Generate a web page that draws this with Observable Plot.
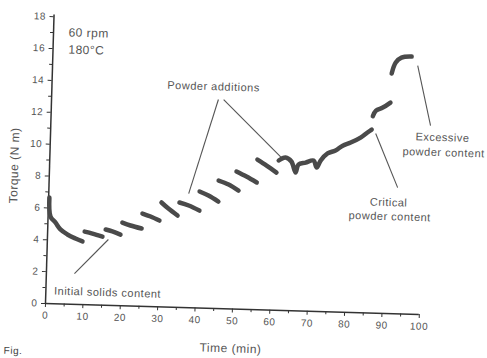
<!DOCTYPE html>
<html><head><meta charset="utf-8">
<script src="https://cdn.jsdelivr.net/npm/d3@7"></script>
<script src="https://cdn.jsdelivr.net/npm/@observablehq/plot@0.6"></script>
<style>
body{margin:0;background:#fff}
#chart svg text{letter-spacing:0.5px}
</style>
</head><body><div id="chart"></div>
<script>
// Torque trace, split into pieces (one per powder addition)
const segment = [1,1,1,1,1,1,1, 2,2,2, 3,3,3, 4,4,4, 5,5,5, 6,6,6, 7,7,7, 8,8,8, 9,9,9, 10,10,10, 11,11,11,
  12,12,12,12,12,12,12,12,12,12,12,12,12,12,12,12, 13,13,13,13, 14,14,14,14];
const time = [0.2,0.65,2.0,3.4,5.3,7.5,9.4, 9.9,12.0,14.7, 15.5,17.3,19.5, 19.9,22.1,25.1, 25.2,27.4,29.8,
  30.2,32.1,34.6, 35.0,37.5,40.4, 40.3,42.7,45.4, 45.3,48.0,50.7, 50.0,52.7,55.5, 55.5,58.0,60.7,
  61.2,63.0,64.6,65.8,66.5,68.4,70.5,71.4,72.4,74.2,76.3,78.2,80.3,82.9,84.7,85.8,
  86.0,86.8,88.6,90.6, 90.7,91.7,93.2,95.9];
const torque = [6.65,5.46,5.10,4.67,4.37,4.13,3.96, 4.58,4.47,4.30, 4.75,4.64,4.46, 5.22,5.05,4.88, 5.82,5.65,5.41,
  6.55,6.18,5.76, 6.58,6.41,6.11, 7.31,7.07,6.71, 8.03,7.80,7.44, 8.63,8.33,7.98, 9.42,9.06,8.64,
  9.40,9.60,9.36,8.68,9.18,9.32,9.46,9.03,9.47,9.93,10.13,10.45,10.66,10.99,11.32,11.51,
  12.35,12.71,12.91,13.24, 15.06,15.76,16.08,16.16];

// Axis ticks
const xTicks = [0,10,20,30,40,50,60,70,80,90,100];
const xMinor = [5,15,25,35,45,55,65,75,85,95];
const yTicks = [0,2,4,6,8,10,12,14,16,18];
const yMinor = [1,3,5,7,9,11,13,15,17];

// Annotations
const noteText = ["60 rpm","180°C","Powder additions","Initial solids content","Critical","powder content","Excessive","powder content"];
const noteX = [4.0,4.1,43.2,16.5,90.9,91.3,104.8,105.2];
const noteY = [17.03,15.96,13.91,0.80,6.97,6.09,11.14,10.2];
const noteAnchor = ["start","start","middle","middle","middle","middle","middle","middle"];

// Pointer lines
const ptrX1 = [44.6,46.0,7.5,86.9,97.6];
const ptrY1 = [13.11,13.12,1.93,11.27,15.61];
const ptrX2 = [37.4,61.9,16.3,93.2,101.5];
const ptrY2 = [7.16,9.59,4.13,7.92,11.87];

const data = time.map((t,i)=>({seg:segment[i], time:t, torque:torque[i]}));
const notes = noteText.map((s,i)=>({text:s, x:noteX[i], y:noteY[i], anchor:noteAnchor[i]}));
const ptrs = ptrX1.map((x,i)=>({x1:x, y1:ptrY1[i], x2:ptrX2[i], y2:ptrY2[i]}));

const svg = Plot.plot({
  width:487, height:358,
  marginLeft:45, marginRight:68, marginTop:16, marginBottom:55,
  x:{domain:[0,100]}, y:{domain:[0,18]},
  style:{fontFamily:"'Liberation Sans', Arial, sans-serif", fontSize:"10px", color:"#555", background:"white"},
  marks:[
    Plot.axisX({ticks:xTicks, tickSize:4, tickPadding:4, label:null, fontSize:10, stroke:"#333"}),
    Plot.axisX({ticks:xMinor, tickSize:3, tickFormat:()=>"", label:null, stroke:"#333"}),
    Plot.axisY({ticks:yTicks, tickSize:4, tickPadding:4, label:null, fontSize:10, stroke:"#333"}),
    Plot.axisY({ticks:yMinor, tickSize:3, tickFormat:()=>"", label:null, stroke:"#333"}),
    Plot.ruleX([0], {y1:0, y2:18.1, stroke:"#333", strokeWidth:1.5}),
    Plot.ruleY([0], {x1:0, x2:100, stroke:"#333", strokeWidth:1.5}),
    Plot.link(ptrs, {x1:"x1", y1:"y1", x2:"x2", y2:"y2", stroke:"#555", strokeWidth:1.1}),
    Plot.line(data, {x:"time", y:"torque", z:"seg", stroke:"#4a4a4a", strokeWidth:4.5,
      strokeLinecap:"round", strokeLinejoin:"round", curve:"catmull-rom"}),
    Plot.text(notes.filter(d=>d.anchor==="start"), {x:"x", y:"y", text:"text", textAnchor:"start", fontSize:12, fill:"#555"}),
    Plot.text(notes.filter(d=>d.anchor==="middle"), {x:"x", y:"y", text:"text", textAnchor:"middle", fontSize:11, fill:"#555"}),
    Plot.text(["Torque (N m)"], {x:-9.4, y:8.6, text:d=>d, rotate:-90, fontSize:12, fill:"#555"}),
    Plot.text(["Time (min)"], {x:49.8, y:-2.48, text:d=>d, fontSize:12, fill:"#555"}),
    Plot.text(["Fig."], {x:-10.8, y:-3.22, text:d=>d, textAnchor:"start", lineAnchor:"bottom", fontSize:10, fill:"#444"})
  ]
});
svg.style.transform = "rotate(1.7deg)";
svg.style.transformOrigin = "45px 303px";
document.getElementById("chart").append(svg);
</script></body></html>
